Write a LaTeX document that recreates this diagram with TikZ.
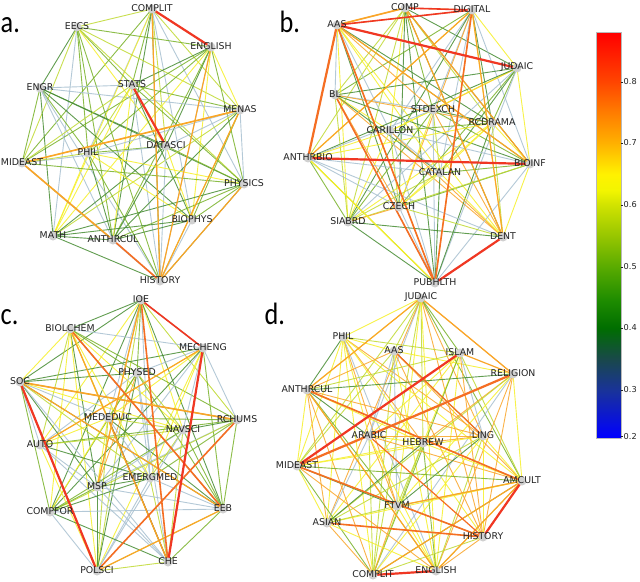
\documentclass[tikz,border=0pt]{standalone}
\usepackage{fontspec}
\newfontfamily\labfont{DejaVu Sans}
\newfontfamily\panfont{Carlito}
\definecolor{eDG}{RGB}{70,140,50}
\definecolor{eG}{RGB}{120,178,40}
\definecolor{eYG}{RGB}{192,218,50}
\definecolor{eY}{RGB}{246,240,40}
\definecolor{eLB}{RGB}{168,192,208}
\definecolor{eO}{RGB}{250,165,40}
\definecolor{eOR}{RGB}{245,110,35}
\definecolor{eR}{RGB}{240,55,35}
\definecolor{eBR}{RGB}{175,115,60}
\definecolor{labc}{RGB}{35,35,35}
\definecolor{dotc}{RGB}{208,208,208}
\pgfdeclareverticalshading{cbarshade}{100bp}{rgb(0bp)=(0,0,1); rgb(25bp)=(0,0,1); rgb(30.89bp)=(0.1,0.2,0.6); rgb(34.6bp)=(0.1,0.28,0.3); rgb(38.55bp)=(0,0.43,0); rgb(42.01bp)=(0.12,0.55,0); rgb(46.09bp)=(0.35,0.67,0); rgb(50.04bp)=(0.6,0.78,0); rgb(53.75bp)=(0.82,0.89,0); rgb(55.5bp)=(0.95,0.96,0); rgb(57.5bp)=(1,0.95,0); rgb(61.41bp)=(1,0.69,0); rgb(65.49bp)=(1,0.47,0); rgb(68.95bp)=(1,0.27,0); rgb(75bp)=(1,0,0); rgb(100bp)=(1,0,0)}
\def\nonecol{none}
\def\panelA{152/9/COMPLIT, 77/27/EECS, 211/47/ENGLISH, 40/88/ENGR, 132/85/STATS, 240/110/MENAS, 166/146/DATASCI, 88/153/PHIL, 22/163/MIDEAST, 244/184/PHYSICS, 192/220/BIOPHYS, 53/236/MATH, 113/240/ANTHRCUL, 160/281/HISTORY}
\def\panelB{405/8/COMP, 472/10/DIGITAL, 337/25/AAS, 517/68/JUDAIC, 335/95/BL, 433/110/STDEXCH, 492/123/RCDRAMA, 390/131/CARILLON, 308/158/ANTHRBIO, 530/164/BIOINF, 440/173/CATALAN, 399/207/CZECH, 348/222/SIABRD, 503/237/DENT, 435/283/PUBHLTH}
\def\panelC{141/300/IOE, 70/329/BIOLCHEM, 203/348/MECHENG, 137/373/PHYSED, 20/382/SOC, 108/418/MEDEDUC, 237/420/RCHUMS, 183/430/NAVSCI, 40/445/AUTO, 150/478/EMERGMED, 97/487/MSP, 50/512/COMPFOR, 223/509/EEB, 168/562/CHE, 97/571/POLSCI}
\def\panelD{421/298/JUDAIC, 343/337/PHIL, 394/351/AAS, 460/353/ISLAM, 513/374/RELIGION, 307/390/ANTHRCUL, 369/436/ARABIC, 483/436/LING, 423/443/HEBREW, 297/466/MIDEAST, 522/481/AMCULT, 397/506/FTVM, 327/523/ASIAN, 483/537/HISTORY, 373/575/COMPLIT, 436/571/ENGLISH}
\newcommand{\placecoords}[2]{\foreach [count=\n] \px/\py/\lbl in #2 {\coordinate (#1\n) at (\px,\py);}}
\newcommand{\randedges}[3]{%
  \foreach \i in {1,...,#2}{%
    \pgfmathtruncatemacro{\k}{\i+1}%
    \ifnum\k>#2\relax\else
      \foreach \j in {\k,...,#2}{%
        \pgfmathrandomitem{\ecol}{#3}%
        \ifx\ecol\nonecol\else
          \draw[thinedge,draw=\ecol] (#1\i) -- (#1\j);%
        \fi}%
    \fi}}
\newcommand{\placelabels}[2]{%
  \foreach [count=\n] \px/\py/\lbl in #2 {\node[dotn] (#1d\n) at (#1\n) {};}%
  \foreach [count=\n] \px/\py/\lbl in #2 {\node[lab] (#1l\n) at (#1\n) {\lbl};}}
\pgfmathdeclarerandomlist{ra}{{eDG}{eDG}{eDG}{eG}{eG}{eG}{eYG}{eYG}{eY}{eY}{eY}{eLB}{eLB}{eLB}{none}}
\pgfmathdeclarerandomlist{rb}{{eDG}{eDG}{eG}{eG}{eYG}{eYG}{eY}{eY}{eY}{eO}{eO}{eLB}{eLB}{none}}
\pgfmathdeclarerandomlist{rc}{{eDG}{eDG}{eDG}{eG}{eG}{eYG}{eYG}{eY}{eY}{eO}{eLB}{eLB}{eLB}{none}}
\pgfmathdeclarerandomlist{rd}{{eY}{eY}{eY}{eY}{eO}{eO}{eO}{eYG}{eYG}{eG}{eDG}{eLB}{none}}
\begin{document}
\begin{tikzpicture}[x=1bp,y=-1bp,
  thinedge/.style={line width=0.9bp, opacity=0.85},
  hot/.style={line width=2.2bp},
  med/.style={line width=1.6bp},
  lite/.style={line width=1.2bp},
  dotn/.style={circle, fill=dotc, minimum size=9bp, inner sep=0pt},
  lab/.style={font=\labfont\fontsize{9.4}{10}\selectfont, text=labc, inner sep=0pt, yshift=1bp},
  panlab/.style={font=\panfont\fontsize{31}{31}\selectfont, text=black, inner sep=0pt, anchor=base west},
  ticklab/.style={font=\labfont\fontsize{8.2}{9}\selectfont, text=labc, inner sep=0pt, anchor=west}]
\useasboundingbox (0,0) rectangle (640,582);
\fill[white] (0,0) rectangle (640,582);
\pgfmathsetseed{11}
\placecoords{a}{\panelA}
\placecoords{b}{\panelB}
\placecoords{c}{\panelC}
\placecoords{d}{\panelD}
\randedges{a}{14}{ra}
\randedges{b}{15}{rb}
\randedges{c}{15}{rc}
\randedges{d}{16}{rd}
% panel a highlights
\draw[lite,eO] (a1) -- (a14);
\draw[lite,eO] (a3) -- (a14);
\draw[lite,eO] (a10) -- (a14);
\draw[lite,eO] (a6) -- (a14);
\draw[med,eO] (a9) -- (a6);
\draw[med,eO] (a9) -- (a13);
\draw[med,eOR] (a13) -- (a14);
\draw[hot,eR] (a1) -- (a3);
\draw[hot,eR] (a5) -- (a7);
% panel b highlights
\draw[lite,eO] (b2) -- (b14);
\draw[lite,eO] (b1) -- (b14);
\draw[lite,eO] (b2) -- (b9);
\draw[lite,eO] (b3) -- (b10);
\draw[lite,eO] (b1) -- (b10);
\draw[lite,eY] (b9) -- (b15);
\draw[med,eOR] (b5) -- (b15);
\draw[med,eOR] (b3) -- (b15);
\draw[med,eOR] (b2) -- (b15);
\draw[med,eO] (b3) -- (b1);
\draw[med,eR] (b1) -- (b2);
\draw[med,eR] (b3) -- (b2);
\draw[hot,eR] (b3) -- (b4);
\draw[hot,eOR] (b3) -- (b9);
\draw[hot,eR] (b9) -- (b10);
\draw[hot,eR] (b14) -- (b15);
% panel c highlights
\draw[lite,eO] (c13) -- (c15);
\draw[lite,eBR] (c6) -- (c14);
\draw[lite,eO] (c3) -- (c9);
\draw[lite,eO] (c5) -- (c13);
\draw[lite,eO] (c1) -- (c11);
\draw[lite,eO] (c2) -- (c14);
\draw[med,eOR] (c1) -- (c14);
\draw[med,eO] (c5) -- (c7);
\draw[med,eOR] (c2) -- (c13);
\draw[med,eOR] (c7) -- (c15);
\draw[med,eR] (c1) -- (c3);
\draw[hot,eR] (c3) -- (c14);
\draw[hot,eR] (c5) -- (c15);
% panel d highlights
\draw[lite,eO] (d1) -- (d6);
\draw[lite,eO] (d4) -- (d5);
\draw[lite,eO] (d1) -- (d5);
\draw[lite,eO] (d12) -- (d11);
\draw[lite,eO] (d15) -- (d11);
\draw[lite,eO] (d16) -- (d11);
\draw[lite,eO] (d6) -- (d16);
\draw[lite,eOR] (d7) -- (d14);
\draw[lite,eOR] (d3) -- (d8);
\draw[med,eOR] (d13) -- (d14);
\draw[med,eOR] (d10) -- (d14);
\draw[med,eOR] (d6) -- (d11);
\draw[hot,eOR] (d10) -- (d5);
\draw[hot,eR] (d10) -- (d4);
\draw[hot,eR] (d15) -- (d16);
\draw[hot,eR] (d11) -- (d14);
% nodes
\placelabels{a}{\panelA}
\placelabels{b}{\panelB}
\placelabels{c}{\panelC}
\placelabels{d}{\panelD}
% panel letters
\node[panlab] (pa) at (0.5,33) {\scalebox{0.85}[1]{a.}};
\node[panlab] (pb) at (279.5,33) {\scalebox{0.85}[1]{b.}};
\node[panlab] (pc) at (0.5,324) {\scalebox{0.85}[1]{c.}};
\node[panlab] (pd) at (264.5,324) {\scalebox{0.85}[1]{d.}};
% colour bar
\shade[shading=cbarshade] (596,32.7) rectangle (621,437.7);
\draw[gray!55, line width=0.4bp] (596,32.7) rectangle (621,437.7);
\foreach [count=\m] \v/\yy in {0.8/82,0.7/143,0.6/205,0.5/267,0.4/328,0.3/390,0.2/436.5} {
  \draw[labc, line width=0.4bp] (621,\yy) -- (623,\yy);
  \node[ticklab] (tk\m) at (623.5,\yy) {\v};
}
\end{tikzpicture}
\end{document}
